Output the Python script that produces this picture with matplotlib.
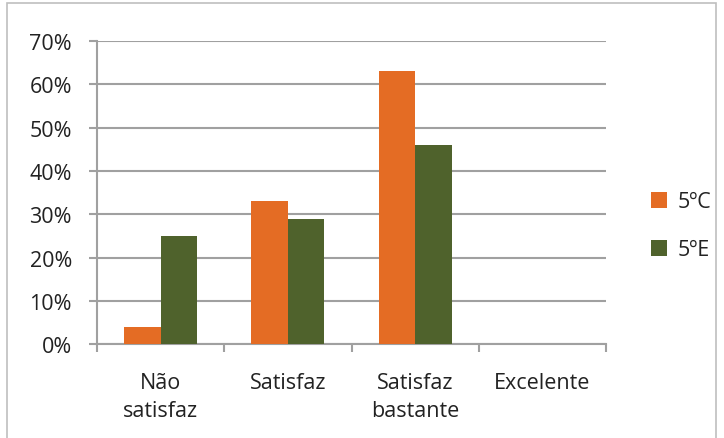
import matplotlib.pyplot as plt
import numpy as np
from matplotlib.patches import Rectangle
from matplotlib.ticker import PercentFormatter

# Data
categories = ['Não\nsatisfaz', 'Satisfaz', 'Satisfaz\nbastante', 'Excelente']
turma_c = [4, 33, 63, 0]
turma_e = [25, 29, 46, 0]
series_names = ['5ºC', '5ºE']

orange = '#E46C24'
green = '#4F622C'
grid_col = '#A0A0A0'

plt.rcParams['font.family'] = ['Open Sans', 'DejaVu Sans']

fig = plt.figure(figsize=(7.24, 4.39), dpi=100)
ax = fig.add_axes([0.134, 0.214, 0.703, 0.690])

x = np.arange(len(categories))
w = 0.287
ax.bar(x - w / 2, turma_c, w, color=orange, label=series_names[0], zorder=3)
ax.bar(x + w / 2, turma_e, w, color=green, label=series_names[1], zorder=3)

ax.set_xlim(-0.5, len(categories) - 0.5)
ax.set_ylim(0, 70)
ax.set_yticks(range(0, 71, 10))
ax.yaxis.set_major_formatter(PercentFormatter(decimals=0))
ax.set_xticks(x)
ax.set_xticklabels(categories, fontsize=15.5, color='#222222', linespacing=1.45)
ax.set_xticks(np.arange(-0.5, len(categories)), minor=True)
ax.tick_params(axis='x', which='major', length=0, pad=20)
ax.tick_params(axis='x', which='minor', length=6, width=1.5, color=grid_col)
ax.tick_params(axis='y', length=6, width=1.5, color=grid_col, labelsize=15.5,
               labelcolor='#222222', pad=12)

ax.grid(axis='y', color=grid_col, linewidth=1.5, zorder=0)
for s in ['top', 'right']:
    ax.spines[s].set_visible(False)
for s in ['left', 'bottom']:
    ax.spines[s].set_color(grid_col)
    ax.spines[s].set_linewidth(1.5)

ax.legend(loc='center left', bbox_to_anchor=(1.05, 0.39), frameon=False,
          fontsize=15.5, handlelength=0.75, handleheight=0.75, labelspacing=1.25,
          handletextpad=0.5, labelcolor='#222222')

# outer chart border
fig.patches.append(Rectangle((0.009, -0.01), 0.98, 1.0, transform=fig.transFigure,
                             fill=False, edgecolor='#BFBFBF', linewidth=1.2))

fig.savefig('out.png', dpi=100)
